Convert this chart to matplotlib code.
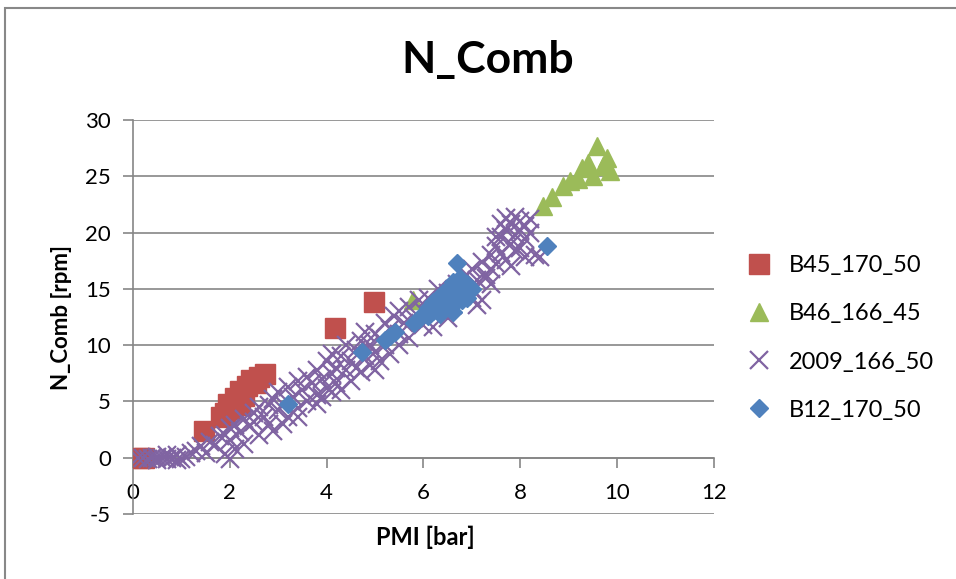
import matplotlib
matplotlib.use("Agg")
import matplotlib.pyplot as plt
from matplotlib.lines import Line2D
from matplotlib.patches import Rectangle

# Series data: PMI [bar] vs N_Comb [rpm]
b45_x = [0.15, 0.22, 1.47, 1.82, 1.90, 1.97, 2.05, 2.10, 2.20, 2.21, 2.30, 2.35,
         2.44, 2.55, 2.60, 2.73, 4.17, 4.98]
b45_y = [0.0, 0.0, 2.4, 3.6, 4.0, 4.8, 4.3, 5.3, 4.7, 5.9, 5.5, 6.4,
         6.9, 6.6, 7.2, 7.4, 11.5, 13.8]

b46_x = [5.79, 8.47, 8.66, 8.88, 9.03, 9.20, 9.28, 9.40, 9.50, 9.59, 9.70, 9.79, 9.86]
b46_y = [14.0, 22.4, 23.2, 24.1, 24.6, 24.8, 25.7, 26.2, 25.0, 27.7, 25.9, 26.6, 25.5]

y2009_x = [0.1, 0.2, 0.3, 0.4, 0.5, 0.6, 0.7, 0.8, 0.9, 1.0, 1.1, 0.5, 0.7, 0.9, 1.2,
           1.3, 1.4, 1.5, 1.6, 1.7, 1.8, 1.9, 2.0, 2.0, 2.1, 2.2, 2.3, 2.4, 2.5, 2.5,
           2.6, 2.7, 2.8, 2.8, 2.9, 3.0, 3.0, 3.1, 3.2, 3.2, 3.3, 3.4, 3.4, 3.5, 3.6,
           3.6, 3.7, 3.8, 3.8, 3.9, 4.0, 4.0, 4.1, 4.1, 4.2, 4.2, 4.3, 4.4, 4.4, 4.5,
           4.6, 4.6, 4.7, 4.8, 4.8, 4.9, 5.0, 5.0, 5.1, 5.2, 5.2, 5.3, 5.4, 5.5, 5.5,
           5.6, 5.7, 5.8, 5.9, 6.0, 6.0, 6.1, 6.2, 6.3, 6.4, 6.5, 6.6, 6.7, 6.8, 6.9,
           7.0, 7.0, 7.1, 7.2, 7.3, 7.4, 7.4, 7.5, 7.5, 7.6, 7.6, 7.7, 7.7, 7.8, 7.8,
           7.9, 7.9, 8.0, 8.0, 8.1, 8.1, 8.2, 8.2, 7.6, 7.7, 7.9, 8.0, 7.5, 8.3, 8.4,
           7.3, 7.2, 2.0, 1.9, 2.1, 2.3, 2.6, 2.9, 3.1, 3.4, 3.8, 3.9, 4.1, 4.3, 4.5,
           4.7, 4.9, 5.0, 5.1, 5.3, 5.5, 5.7, 6.2, 6.5, 7.0, 7.8, 8.1, 7.4, 7.1]
y2009_y = [0.0, 0.0, -0.1, 0.0, 0.1, 0.0, -0.1, 0.0, 0.2, -0.1, 0.1, -0.2, 0.2, -0.2, 0.4,
           0.6, 1.0, 0.4, 1.4, 1.1, 1.9, 2.0, 2.6, 1.6, 2.9, 2.3, 3.4, 2.8, 4.0, 3.2,
           4.5, 3.6, 4.7, 3.0, 5.2, 4.2, 5.8, 4.8, 6.3, 3.6, 5.4, 6.8, 4.4, 6.0, 7.2,
           5.0, 6.6, 7.8, 5.6, 7.0, 8.6, 6.2, 9.2, 7.4, 8.0, 6.6, 9.0, 7.8, 10.0, 8.6,
           9.6, 8.0, 10.4, 9.0, 11.2, 10.0, 11.0, 9.4, 10.6, 12.0, 10.0, 11.4, 12.6, 11.0, 13.0,
           12.0, 13.4, 12.4, 14.0, 13.0, 11.8, 14.2, 12.8, 15.0, 13.4, 14.6, 13.6, 15.4, 14.4, 16.2,
           15.0, 16.8, 15.8, 17.4, 16.2, 18.0, 16.8, 18.8, 17.2, 19.6, 18.2, 17.6, 20.2, 19.0, 20.8,
           18.4, 19.8, 21.0, 20.2, 19.4, 20.6, 21.2, 20.0, 20.8, 21.3, 21.4, 18.6, 19.6, 18.0, 17.8,
           16.0, 14.0, -0.1, 0.3, 0.8, 1.2, 2.0, 2.4, 3.0, 3.6, 4.8, 5.4, 5.8, 6.0, 6.8,
           7.6, 8.2, 7.8, 8.6, 9.2, 10.0, 10.6, 11.6, 12.4, 14.2, 17.0, 17.8, 15.4, 13.6]

b12_x = [3.20, 4.73, 5.20, 5.30, 5.41, 5.80, 5.90, 6.00, 6.10, 6.10, 6.20, 6.20, 6.30,
         6.30, 6.40, 6.40, 6.50, 6.50, 6.55, 6.60, 6.60, 6.70, 6.70, 6.75, 6.80, 6.80,
         6.90, 6.90, 7.00, 6.69, 8.55, 6.35, 6.60]
b12_y = [4.8, 9.4, 10.5, 10.8, 11.2, 12.0, 12.3, 12.8, 12.6, 13.3, 13.0, 13.8, 13.4,
         14.2, 13.2, 14.6, 13.8, 15.0, 14.2, 15.6, 13.6, 14.4, 15.2, 16.0, 14.0, 14.8,
         15.4, 14.2, 15.0, 17.3, 18.8, 12.8, 12.9]

series_names = ["B45_170_50", "B46_166_45", "2009_166_50", "B12_170_50"]
x_ticks = [0, 2, 4, 6, 8, 10, 12]
y_ticks = [-5, 0, 5, 10, 15, 20, 25, 30]

RED, GREEN, PURPLE, BLUE = "#C0504D", "#9BBB59", "#8064A2", "#4F81BD"
GRID = "#868686"
FONT = "Lato"

fig = plt.figure(figsize=(9.56, 5.79), dpi=100)
W, H = 956, 579

# outer chart frame
fig.patches.append(Rectangle((5 / W, -0.1), 1.2, (579 - 8) / H + 0.1,
                             transform=fig.transFigure, fill=False,
                             edgecolor="#888888", linewidth=1.5))

ax = fig.add_axes([133 / W, 1 - 514 / H, (714 - 133) / W, (514 - 120) / H])
ax.set_xlim(0, 12)
ax.set_ylim(-5, 30)

ax.plot(b45_x, b45_y, ls="none", marker="s", ms=14, color=RED, mec=RED, zorder=3)
ax.plot(b46_x, b46_y, ls="none", marker="^", ms=13, color=GREEN, mec=GREEN, zorder=3)
ax.plot(y2009_x, y2009_y, ls="none", marker="x", ms=13.5, mew=1.6, color=PURPLE, zorder=4)
ax.plot(b12_x, b12_y, ls="none", marker="D", ms=9.5, color=BLUE, mec=BLUE, zorder=5)

# axes styling
for side in ("top", "right"):
    ax.spines[side].set_visible(False)
ax.spines["left"].set_color(GRID)
ax.spines["left"].set_linewidth(1.2)
ax.spines["bottom"].set_position(("data", 0))
ax.spines["bottom"].set_color(GRID)
ax.spines["bottom"].set_linewidth(1.2)

ax.set_yticks(y_ticks)
ax.set_xticks(x_ticks)
ax.set_yticklabels([str(v) for v in y_ticks])
ax.set_xticklabels([str(v) for v in x_ticks])
ax.yaxis.grid(True, color=GRID, linewidth=1.2)
ax.set_axisbelow(True)
ax.tick_params(axis="y", direction="out", length=7, width=1.2, color=GRID,
               pad=9, labelsize=16)
ax.tick_params(axis="x", direction="out", length=7, width=1.2, color=GRID,
               pad=11, labelsize=16)
for lbl in ax.get_xticklabels() + ax.get_yticklabels():
    lbl.set_fontfamily(FONT)

fig.text(488 / W, 1 - 60 / H, "N_Comb", ha="center", va="center",
         fontsize=32, fontweight="bold", family=FONT)
fig.text(425 / W, 1 - 537 / H, "PMI [bar]", ha="center", va="center",
         fontsize=17, fontweight="bold", family=FONT)
fig.text(62 / W, 1 - 317 / H, "N_Comb [rpm]", ha="center", va="center",
         rotation=90, fontsize=16, fontweight="bold", family=FONT)

handles = [
    Line2D([], [], ls="none", marker="s", ms=14, color=RED),
    Line2D([], [], ls="none", marker="^", ms=13, color=GREEN),
    Line2D([], [], ls="none", marker="x", ms=13.5, mew=1.6, color=PURPLE),
    Line2D([], [], ls="none", marker="D", ms=9.5, color=BLUE),
]
fig.legend(handles, series_names, loc="center left",
           bbox_to_anchor=(735 / W, 1 - 338 / H), frameon=False,
           prop={"family": FONT, "size": 17}, handlelength=1.0,
           handletextpad=0.8, labelspacing=1.15, borderpad=0)

fig.savefig("out.png", dpi=100)
